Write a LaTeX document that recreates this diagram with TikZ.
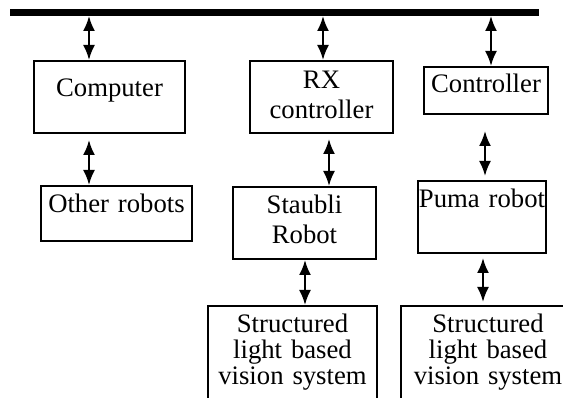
\documentclass[tikz,border=0pt]{standalone}
\usepackage{fontspec}
\setmainfont{Liberation Serif}
\usepackage{tikz}
\usetikzlibrary{arrows.meta}

\newcommand{\blkfont}{\fontsize{26.7pt}{30pt}\selectfont}
\newcommand{\visfont}{\fontsize{26.7pt}{26pt}\selectfont}

\begin{document}
\begin{tikzpicture}[x=1pt, y=-1pt,
    >={Latex[length=15pt, width=12pt]},
    blk/.style={draw, line width=2pt, inner sep=0pt, align=center,
        font=\blkfont, anchor=north, text height=27pt},
    vis/.style={blk, font=\visfont, text depth=78pt},
    link/.style={<->, line width=2.2pt}]
    % 1. Khung hình
    \useasboundingbox (0,0) rectangle (563,398);
    \clip (0,0) rectangle (563,398);

    % 2. Thanh bus phía trên
    \node[fill, inner sep=0pt, minimum width=529pt, minimum height=6.5pt] (bus) at (274.5,12.5) {};

    % 3. Các khối
    \node[blk, text width=151pt, text height=36pt, text depth=36pt] (computer) at (109.5,60) {Computer};
    \node[blk, text width=151pt, text depth=28pt] (other) at (116.5,185) {Other robots};
    \node[blk, text width=143pt, text height=28pt, text depth=44pt] (rx) at (321.5,60) {RX\\controller};
    \node[blk, text width=143pt, text depth=45pt] (staubli) at (304.5,186) {Staubli\\Robot};
    \node[blk, text width=124pt, text height=26pt, text depth=21pt] (ctrl) at (486,66) {Controller};
    \node[blk, text width=128pt, text depth=45pt] (puma) at (482,180) {Puma robot};
    \node[vis, text width=169pt] (visA) at (292.5,305) {Structured\\light based\\vision system};
    \node[vis, text width=174pt] (visB) at (488,305) {Structured\\light based\\vision system};

    % 4. Mũi tên hai chiều
    \draw[link] (bus.south -| 89,0) -- (computer.north -| 89,0);
    \draw[link] (bus.south -| 323,0) -- (rx.north -| 323,0);
    \draw[link] (bus.south -| 491,0) -- (ctrl.north -| 491,0);
    \draw[link, shorten <=6pt] (computer.south -| 89,0) -- (other.north -| 89,0);
    \draw[link, shorten <=5pt] (rx.south -| 329,0) -- (staubli.north -| 329,0);
    \draw[link, shorten <=16pt, shorten >=4pt] (ctrl.south -| 485,0) -- (puma.north -| 485,0);
    \draw[link] (staubli.south -| 305,0) -- (visA.north -| 305,0);
    \draw[link, shorten <=4pt, shorten >=3pt] (puma.south -| 483,0) -- (visB.north -| 483,0);
\end{tikzpicture}
\end{document}
